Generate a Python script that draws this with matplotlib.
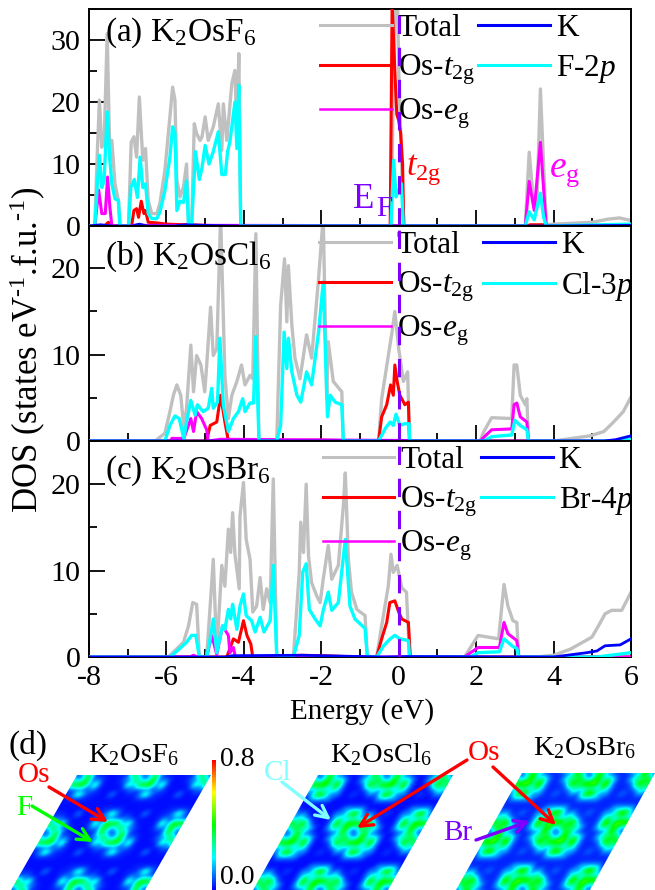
import numpy as np
import matplotlib
matplotlib.use('Agg')
import matplotlib.pyplot as plt
from matplotlib.cm import ScalarMappable
from matplotlib.colors import LinearSegmentedColormap, Normalize
from matplotlib.lines import Line2D
from matplotlib.patches import Polygon
from matplotlib.ticker import MultipleLocator
from matplotlib.transforms import Affine2D

plt.rcParams['font.family'] = ['Liberation Serif', 'DejaVu Serif']
plt.rcParams['mathtext.fontset'] = 'custom'
plt.rcParams['mathtext.rm'] = 'Liberation Serif'
plt.rcParams['mathtext.it'] = 'Liberation Serif:italic'
plt.rcParams['mathtext.bf'] = 'Liberation Serif:bold'
plt.rcParams['mathtext.default'] = 'regular'
plt.rcParams['axes.unicode_minus'] = False

# panel a, K2OsF6
a_total_x = [-8, -7.85, -7.78, -7.73, -7.67, -7.61, -7.53, -7.46, -7.41, -7.33, -7.24, -7.2, -6.98, -6.91, -6.84, -6.77, -6.7, -6.61, -6.54, -6.47, -6.38, -6.25, -6.17, -6.04, -5.91, -5.84, -5.78, -5.73, -5.65, -5.56, -5.48, -5.43, -5.35, -5.28, -5.22, -5.13, -5.08, -5.0, -4.92, -4.79, -4.66, -4.57, -4.53, -4.44, -4.31, -4.23, -4.18, -4.13, -4.08, -0.2, -0.1, -0.03, 0.0, 0.1, 0.14, 3.27, 3.37, 3.48, 3.57, 3.66, 3.72, 3.81, 4.0, 5.0, 5.4, 5.7, 6]
a_total_y = [0, 0, 12.7, 20.3, 12.7, 13.3, 31, 10.6, 13.8, 6.8, 4.1, 0, 0, 13.5, 14.4, 11.1, 20.8, 10.6, 12.5, 4.1, 2, 2, 3.6, 9, 17.6, 22.4, 20.3, 7.4, 4.7, 6.3, 10, 0.4, 0, 16.5, 14.9, 13.8, 14.4, 17.6, 13.8, 16, 19.7, 12.2, 19.7, 13.8, 23, 25.1, 14.9, 27.8, 0, 0, 36, 36, 25, 5, 0, 0, 11.9, 4, 3.6, 22.1, 13, 0.2, 0.3, 0.6, 1.1, 1.3, 0.9]
a_t2g_x = [-8, -7.6, -7.5, -7.4, -6.9, -6.84, -6.77, -6.72, -6.65, -6.58, -6.54, -6.47, -6.25, -6, -5, -4.1, -0.22, -0.17, -0.1, -0.05, 0.0, 0.05, 0.1, 0.13, 3.3, 3.4, 3.75, 3.85, 6]
a_t2g_y = [0, 0, 0.6, 0, 0, 2.5, 2.8, 1.4, 4, 2, 2.5, 0.6, 0.5, 0.3, 0.1, 0, 0, 36, 25, 18, 17, 15, 10, 0, 0, 0.2, 0.2, 0, 0]
a_eg_x = [-8, -7.85, -7.75, -7.67, -7.58, -7.52, -7.46, -7.41, -6.9, -4.1, 3.27, 3.37, 3.5, 3.66, 3.72, 3.81, 6]
a_eg_y = [0, 0, 5.8, 2, 2, 7.9, 3, 0, 0.1, 0.1, 0, 7.2, 2.5, 13.5, 8, 0, 0]
a_k_x = [-8, -7.7, -7.4, -6.9, -6.7, -6.5, -5.8, -5.5, -5, -4.1, 0, 4, 6]
a_k_y = [0, 0.2, 0, 0, 0.3, 0, 0, 0.2, 0.1, 0, 0, 0, 0.1]
a_p_x = [-8, -7.85, -7.78, -7.73, -7.67, -7.61, -7.53, -7.46, -7.41, -7.33, -7.24, -7.2, -6.98, -6.92, -6.83, -6.75, -6.68, -6.61, -6.54, -6.47, -6.38, -6.25, -6.17, -6.04, -5.91, -5.84, -5.78, -5.73, -5.65, -5.56, -5.48, -5.43, -5.35, -5.25, -5.15, -5.08, -5.0, -4.9, -4.79, -4.66, -4.57, -4.48, -4.42, -4.36, -4.23, -4.18, -4.13, -4.08, -0.2, -0.13, -0.07, 0.0, 0.07, 0.12, 3.27, 3.37, 3.5, 3.66, 3.74, 3.81, 4.5, 6]
a_p_y = [0, 0, 7.3, 11.4, 6.2, 7.3, 18.4, 10.6, 6.8, 4.4, 4.1, 0, 0, 6.2, 7.5, 4.6, 11.1, 6.2, 6.8, 2, 1.2, 1.2, 2.2, 5.7, 11.1, 16, 15, 2.5, 4, 3.8, 7.3, 0.4, 0, 12, 7.5, 9.4, 13, 10, 12, 15.2, 8.3, 8.3, 12, 13.6, 20, 12.5, 22.7, 0, 0, 10.6, 4.7, 5.8, 6.8, 0, 0, 2.3, 1, 5.3, 1.5, 0, 0.1, 0.3]

# panel b, K2OsCl6
b_total_x = [-8, -6.29, -6.04, -5.91, -5.82, -5.73, -5.63, -5.55, -5.48, -5.37, -5.3, -5.22, -5.11, -5.01, -4.96, -4.86, -4.79, -4.7, -4.6, -4.49, -4.4, -4.31, -4.18, -4.06, -3.97, -3.84, -3.77, -3.69, -3.61, -3.15, -3.05, -2.95, -2.89, -2.85, -2.76, -2.68, -2.55, -2.38, -2.25, -2.07, -1.95, -1.86, -1.82, -1.69, -1.47, -1.43, -0.52, -0.44, -0.24, -0.16, -0.1, 0.0, 0.12, 0.23, 0.28, 2.1, 2.2, 2.4, 2.92, 2.98, 3.05, 3.14, 3.27, 3.31, 3.35, 4.0, 4.95, 5.3, 5.55, 5.8, 6]
b_total_y = [0, 0, 0.9, 3.4, 5.3, 6.5, 5.3, 1.5, 3.8, 11.1, 5.7, 9.9, 8.8, 5.7, 8.8, 15.5, 9.9, 10.7, 26, 7.6, 2.6, 5.3, 6.9, 8.8, 6.5, 7.6, 7.2, 24, 0, 0, 15.7, 21.1, 13.8, 20.3, 13.4, 9.6, 7.2, 12.3, 9.6, 18.8, 26, 4.9, 11.5, 6.9, 5.7, 0, 0, 4.9, 10.7, 13, 15, 10.7, 6.9, 8, 0, 0, 1.1, 2.7, 2.6, 8.8, 8.8, 5.3, 4.2, 4.9, 0, 0, 0.6, 1.1, 2.2, 3.4, 5.1]
b_t2g_x = [-8, -4.96, -4.87, -4.7, -4.6, -4.49, -4.4, -2, -1, -0.52, -0.44, -0.31, -0.21, -0.14, -0.1, -0.04, 0.03, 0.16, 0.25, 0.28, 6]
b_t2g_y = [0, 0, 1.8, 2.2, 5.3, 2.2, 0, 0.1, 0, 0, 2.8, 4.2, 6.5, 5.3, 8.8, 6.9, 5.3, 4.2, 4.5, 0, 0]
b_eg_x = [-8, -5.9, -5.86, -5.55, -5.37, -5.3, -5.22, -5.09, -4.96, -4.92, -4.6, 2.1, 2.4, 2.92, 2.98, 3.05, 3.14, 3.31, 3.35, 6]
b_eg_y = [0, 0, 0.3, 0.3, 2.6, 1.1, 3.4, 2.6, 1.3, 0, 0.2, 0, 1.3, 1.4, 4.2, 4.4, 2.8, 2.2, 0, 0]
b_k_x = [-8, 5.3, 5.6, 6]
b_k_y = [0, 0, 0.15, 0.6]
b_p_x = [-8, -6.04, -5.91, -5.78, -5.67, -5.55, -5.48, -5.37, -5.26, -5.2, -5.05, -4.92, -4.83, -4.79, -4.68, -4.62, -4.53, -4.4, -4.27, -4.14, -4.03, -3.97, -3.84, -3.75, -3.69, -3.61, -3.15, -3.05, -2.96, -2.89, -2.85, -2.76, -2.63, -2.53, -2.38, -2.25, -2.07, -1.95, -1.84, -1.77, -1.64, -1.47, -1.43, -0.52, -0.34, -0.22, -0.14, -0.07, 0.03, 0.16, 0.27, 0.28, 2.2, 2.4, 2.92, 3.0, 3.14, 3.31, 3.35, 5.5, 6]
b_p_y = [0, 0, 1.8, 2.9, 2.6, 0.3, 2.2, 4.7, 3, 4.2, 3.4, 3.8, 6.1, 3.8, 4.5, 11.9, 4.2, 1.1, 2.6, 3.4, 4.9, 3.4, 4.4, 4.4, 12.1, 0, 0, 1.8, 12.6, 8.4, 11.9, 8, 5.3, 4.5, 8, 6.5, 12.6, 18.4, 2.8, 5.3, 4.5, 4.2, 0, 0, 1.5, 2.2, 1.8, 3.1, 1.8, 2, 2, 0, 0, 0.5, 0.7, 2.4, 1.8, 1.3, 0, 0, 0.2]

# panel c, K2OsBr6
c_total_x = [-8, -5.95, -5.56, -5.43, -5.32, -5.22, -5.15, -4.96, -4.87, -4.79, -4.7, -4.57, -4.49, -4.4, -4.34, -4.29, -4.23, -4.12, -4.1, -4.01, -3.94, -3.84, -3.77, -3.67, -3.58, -3.5, -3.41, -3.32, -3.24, -3.15, -2.72, -2.57, -2.53, -2.46, -2.39, -2.33, -2.25, -2.12, -2.03, -1.95, -1.82, -1.73, -1.56, -1.43, -1.38, -1.3, -1.22, -1.08, -0.87, -0.81, -0.57, -0.44, -0.27, -0.2, -0.14, -0.04, 0.08, 0.2, 0.28, 1.7, 2.05, 2.58, 2.72, 2.82, 2.95, 3.05, 3.1, 3.54, 4.0, 4.43, 4.99, 5.16, 5.33, 5.5, 5.76, 6]
c_total_y = [0, 0, 1.7, 3.6, 6.3, 6.1, 0, 0, 5.9, 11.3, 0.5, 10.6, 8.2, 14.8, 12.1, 16.7, 11.9, 7.9, 16.3, 20.2, 13.6, 11.3, 5.2, 5.9, 9.2, 5.5, 7.9, 6.3, 20.6, 0, 0, 9.8, 15.6, 12.1, 20, 11.7, 8.6, 7.1, 6.3, 9, 12.9, 9, 10.6, 17.5, 21.3, 11.3, 7.5, 5.5, 4.8, 0, 0, 3.6, 8.2, 11.9, 9.8, 10.6, 8, 7.5, 0, 0, 2.5, 2.1, 8.4, 5.9, 4.2, 4, 0, 0, 0.2, 0.9, 2.3, 3.6, 5, 5.4, 5.4, 7.5]
c_t2g_x = [-8, -4.44, -4.27, -4.14, -4.01, -3.92, -3.82, -3.77, -2.5, -2, -1, -0.57, -0.44, -0.31, -0.23, -0.1, 0.0, 0.08, 0.25, 0.3, 6]
c_t2g_y = [0, 0, 2.1, 1.7, 4.2, 2.5, 1.5, 0, 0.2, 0.15, 0, 0, 2.1, 4, 6.3, 6.5, 5.2, 4.4, 4, 0, 0]
c_eg_x = [-8, -5.4, -5.3, -5.2, -4.96, -4.83, -4.7, -4.55, -4.4, -4.36, -4.27, -4.22, 1.7, 2.05, 2.6, 2.72, 2.82, 3.05, 3.1, 6]
c_eg_y = [0, 0, 0.2, 0, 0, 2.5, 0.3, 3.6, 2.5, 0.5, 1.1, 0, 0, 1.1, 1.1, 4, 2.7, 1.9, 0, 0]
c_k_x = [-8, -4.5, -4.3, -2.5, -0.4, 0.2, 4, 4.86, 5.12, 5.33, 5.72, 6]
c_k_y = [0, 0, 0.15, 0.2, 0, 0.05, 0, 0.5, 0.7, 1.3, 1.4, 2.1]
c_p_x = [-8, -5.9, -5.48, -5.35, -5.24, -5.15, -4.96, -4.87, -4.79, -4.7, -4.55, -4.49, -4.4, -4.34, -4.29, -4.18, -4.1, -4.01, -3.94, -3.8, -3.71, -3.58, -3.48, -3.32, -3.24, -3.15, -2.72, -2.57, -2.48, -2.39, -2.31, -2.16, -2.03, -1.95, -1.82, -1.73, -1.56, -1.38, -1.26, -1.13, -0.87, -0.81, -0.57, -0.39, -0.22, -0.1, 0.03, 0.25, 0.28, 1.85, 2.05, 2.6, 2.72, 2.95, 3.05, 3.1, 5.12, 6]
c_p_y = [0, 0, 1.7, 2.5, 2.5, 0, 0, 2.1, 4.4, 0.5, 3.6, 3.2, 5.5, 4.4, 6.1, 3.2, 5.9, 7.3, 4.8, 4.2, 2.9, 4.6, 2.9, 4.2, 10.6, 0, 0, 2.5, 9.8, 10.8, 5.5, 4.4, 3.6, 5.4, 7.5, 5.4, 6.3, 13.6, 5.9, 4.4, 3.3, 0, 0, 1.3, 2.1, 2.5, 2.1, 1.9, 0, 0, 0.5, 0.6, 2.1, 1.2, 1, 0, 0, 0.5]

panel_labels = [r'(a) K$_2$OsF$_6$', r'(b) K$_2$OsCl$_6$', r'(c) K$_2$OsBr$_6$']
p_labels = [r'F-2$\mathit{p}$', r'Cl-3$\mathit{p}$', r'Br-4$\mathit{p}$']
y_tops = [35, 24.9, 25]
y_ticks = [[0, 10, 20, 30], [0, 10, 20], [0, 10, 20]]
x_ticks = [-8, -6, -4, -2, 0, 2, 4, 6]

cell_regions = np.array([
    [0, 1, 2, 4, 7, 9, 9, 9, 7, 4, 2, 1],
    [1, 2, 3, 6, 8, 9, 9, 8, 6, 3, 2, 1],
    [2, 3, 5, 8, 9, 9, 9, 8, 5, 3, 2, 2],
    [4, 6, 8, 9, 9, 9, 9, 8, 6, 4, 3, 3],
    [7, 8, 9, 9, 10, 9, 9, 8, 7, 6, 5, 6],
    [9, 9, 9, 9, 9, 9, 9, 9, 8, 8, 8, 8],
    [9, 9, 9, 9, 9, 9, 9, 9, 9, 9, 9, 9],
    [9, 8, 8, 8, 8, 9, 9, 9, 9, 9, 9, 9],
    [7, 6, 5, 6, 7, 8, 9, 9, 10, 9, 9, 8],
    [4, 3, 3, 4, 6, 8, 9, 9, 9, 9, 8, 6],
    [2, 2, 2, 3, 5, 8, 9, 9, 9, 8, 5, 3],
    [1, 1, 2, 3, 6, 8, 9, 9, 8, 6, 3, 2],
])
rho_f = np.array([0.0, 0.15, 0.44, 0.09, 0.05, 0.32, 0.11, 0.02, 0.03, 0.01, 0.12])
rho_cl = np.array([0.0, 0.16, 0.47, 0.20, 0.12, 0.52, 0.30, 0.06, 0.13, 0.01, 0.06])
rho_br = np.array([0.0, 0.18, 0.50, 0.24, 0.16, 0.56, 0.34, 0.08, 0.16, 0.03, 0.10])

fig = plt.figure(figsize=(6.55, 8.9), dpi=100)
W, H = 655.0, 890.0


def add_panel(top, bottom):
    return fig.add_axes([89 / W, 1 - bottom / H, (631 - 89) / W, (bottom - top) / H])


axes = [add_panel(9, 226), add_panel(226, 441), add_panel(441, 657)]
series = [
    (a_total_x, a_total_y, a_k_x, a_k_y, a_t2g_x, a_t2g_y, a_eg_x, a_eg_y, a_p_x, a_p_y),
    (b_total_x, b_total_y, b_k_x, b_k_y, b_t2g_x, b_t2g_y, b_eg_x, b_eg_y, b_p_x, b_p_y),
    (c_total_x, c_total_y, c_k_x, c_k_y, c_t2g_x, c_t2g_y, c_eg_x, c_eg_y, c_p_x, c_p_y),
]
legend_x = [0.426, 0.424, 0.431]
col_gap = [0.1, 0.3, 0.1]
label_y = [0.855, 0.82, 0.825]

for n, ax in enumerate(axes):
    tx, ty, kx, ky, tgx, tgy, egx, egy, px, py = series[n]
    ax.plot(tx, ty, color='#c0c0c0', lw=2.4, zorder=2)
    ax.plot(tgx, tgy, color='#ff0000', lw=2.2, zorder=3)
    ax.plot(egx, egy, color='#ff00ff', lw=2.2, zorder=4)
    ax.plot(px, py, color='#00ffff', lw=2.4, zorder=5)
    ax.plot(kx, ky, color='#0000ff', lw=2.0, zorder=6)
    ax.axvline(0, color='#7f00ff', lw=2.2, linestyle=(0, (6, 4.5)), zorder=7)

    ax.set_xlim(-8, 6)
    ax.set_ylim(0, y_tops[n])
    ax.set_xticks(x_ticks)
    ax.set_yticks(y_ticks[n])
    ax.xaxis.set_minor_locator(MultipleLocator(1))
    ax.yaxis.set_minor_locator(MultipleLocator(5))
    ax.tick_params(which='major', direction='in', length=11.5, width=1.3, labelsize=21.6, pad=6)
    ax.tick_params(which='minor', direction='in', length=5.5, width=1.3)
    if n < 2:
        ax.tick_params(axis='x', which='both', labelbottom=False)
    for s in ax.spines.values():
        s.set_linewidth(1.4)

    ax.text(0.03, label_y[n], panel_labels[n], transform=ax.transAxes, fontsize=24, va='baseline', zorder=9)

    handles = [
        Line2D([], [], color='#c0c0c0', lw=2.2),
        Line2D([], [], color='#ff0000', lw=2.2),
        Line2D([], [], color='#ff00ff', lw=1.8),
        Line2D([], [], color='#0000ff', lw=2.2),
        Line2D([], [], color='#00ffff', lw=2.2),
    ]
    labels = ['Total', r'Os-$\mathit{t}_{2g}$', r'Os-$\mathit{e}_{g}$', 'K', p_labels[n]]
    ax.legend(handles, labels, ncol=2, frameon=False, fontsize=22.5, loc='upper left',
              bbox_to_anchor=(legend_x[n], 0.975), borderpad=0, borderaxespad=0,
              handlelength=2.3, handletextpad=0.19, columnspacing=col_gap[n], labelspacing=0.3)

axes[0].text(0.2, 8.2, r'$\mathit{t}_{2g}$', color='#ff0000', fontsize=25, va='baseline')
axes[0].text(3.88, 8.0, r'$\mathit{e}_{g}$', color='#ff00ff', fontsize=27, va='baseline')

# whole figure overlay in pixel units for the labels and panel (d)
over = fig.add_axes([0, 0, 1, 1], zorder=10)
over.set_xlim(0, W)
over.set_ylim(H, 0)
over.axis('off')

over.text(353, 208, 'E', color='#7f00ff', fontsize=25, va='baseline')
over.text(376, 216, 'F', color='#7f00ff', fontsize=21, va='baseline')
over.text(28, 350, r'DOS (states eV$^{\text{-}1}$.f.u.$^{\text{-}1}$)', rotation=90, ha='center', va='center', fontsize=25)
over.text(362, 712, 'Energy (eV)', ha='center', va='center', fontsize=21)
over.text(8, 745, '(d)', ha='left', va='center', fontsize=24)

rainbow = LinearSegmentedColormap.from_list('rho', ['#0000ff', '#00ffff', '#00ff00', '#ffff00', '#ff0000'])
rho_norm = Normalize(0, 0.8)
P = 66.7


def density_map(levels, os_x, os_y, corners):
    grid = np.tile(levels[cell_regions], (5, 5))
    im = over.imshow(grid, cmap=rainbow, norm=rho_norm, origin='lower', interpolation='bicubic',
                     interpolation_stage='data', extent=(-24.5, 35.5, -24.5, 35.5), aspect='auto')
    shear = Affine2D.from_values(P / 12, 0, P / 24, -P * 0.866 / 12, os_x, os_y)
    im.set_transform(shear + over.transData)
    clip = Polygon(corners, closed=True, fc='none', ec='none', transform=over.transData)
    over.add_patch(clip)
    im.set_clip_path(clip)


density_map(rho_f, 112, 833, [(77, 775), (211, 775), (145, 890), (11, 890)])
density_map(rho_cl, 353.3, 833, [(318, 775), (453, 775), (388, 890), (253, 890)])
density_map(rho_br, 555, 832, [(522, 773), (655, 773), (590, 890), (456, 890)])
over.set_xlim(0, W)
over.set_ylim(H, 0)

cax = fig.add_axes([212 / W, 0, 3.5 / W, 130 / H], zorder=11)
cb = fig.colorbar(ScalarMappable(norm=rho_norm, cmap=rainbow), cax=cax)
cb.outline.set_visible(False)
cb.set_ticks([])
over.text(220, 760, '0.8', fontsize=20, va='center')
over.text(220, 877, '0.0', fontsize=20, va='center')

over.text(133, 755, r'K$_2$OsF$_6$', ha='center', va='center', fontsize=20.5)
over.text(381, 755, r'K$_2$OsCl$_6$', ha='center', va='center', fontsize=20.5)
over.text(585, 748, r'K$_2$OsBr$_6$', ha='center', va='center', fontsize=20.5)

over.text(34, 775, 'Os', color='#ff0000', ha='center', va='center', fontsize=21)
over.text(24, 808, 'F', color='#00ff00', ha='center', va='center', fontsize=21)
over.text(278, 773, 'Cl', color='#80ffff', ha='center', va='center', fontsize=21)
over.text(484, 753, 'Os', color='#ff0000', ha='center', va='center', fontsize=21)
over.text(458, 833, 'Br', color='#7f00ff', ha='center', va='center', fontsize=21)

arrows = [
    ((49, 787), (108, 822), '#ff0000'),
    ((32, 806), (93, 842), '#00ff00'),
    ((282, 782), (331, 820), '#80ffff'),
    ((467, 760), (357, 828), '#ff0000'),
    ((493, 767), (556, 825), '#ff0000'),
    ((476, 840), (530, 821), '#7f00ff'),
]
for start, end, col in arrows:
    over.annotate('', xy=end, xytext=start,
                  arrowprops=dict(arrowstyle='->', color=col, lw=2.4, mutation_scale=22,
                                  shrinkA=0, shrinkB=0))

fig.savefig('out.png', dpi=100)
